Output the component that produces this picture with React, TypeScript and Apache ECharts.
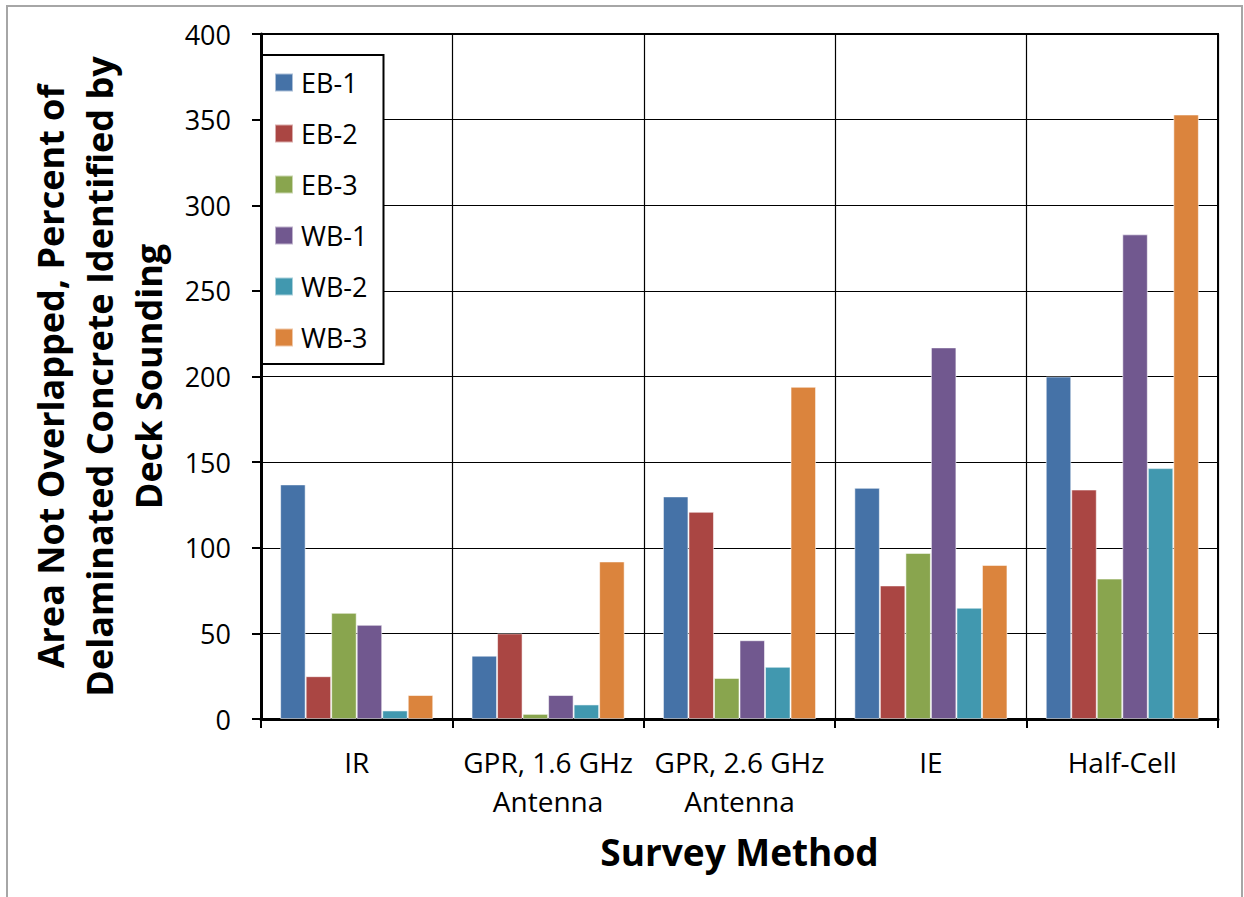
import React, { useEffect, useRef } from "react";
import * as echarts from "echarts";

const categories = ["IR", "GPR, 1.6 GHz\nAntenna", "GPR, 2.6 GHz\nAntenna", "IE", "Half-Cell"];
const seriesNames = ["EB-1", "EB-2", "EB-3", "WB-1", "WB-2", "WB-3"];
const eb1 = [137, 37, 130, 135, 200];
const eb2 = [25, 50, 121, 78, 134];
const eb3 = [62, 3, 24, 97, 82];
const wb1 = [55, 14, 46, 217, 283];
const wb2 = [5, 8.5, 30.5, 65, 146.5];
const wb3 = [14, 92, 194, 90, 353];
const yTicks = [0, 50, 100, 150, 200, 250, 300, 350, 400];
const colors = ["#4572A7", "#AA4643", "#89A54E", "#71588F", "#4198AF", "#DB843D"];

const FONT = "'Open Sans', 'Noto Sans', sans-serif";

export default function App() {
  const ref = useRef<HTMLDivElement>(null);
  useEffect(() => {
    if (!ref.current) return;
    const chart = echarts.init(ref.current, null, { renderer: "svg" });
    const values = [eb1, eb2, eb3, wb1, wb2, wb3];
    chart.setOption({
      animation: false,
      backgroundColor: "#ffffff",
      textStyle: { fontFamily: FONT },
      graphic: [
        {
          type: "rect",
          shape: { x: 7, y: 6, width: 1235, height: 910 },
          style: { fill: "none", stroke: "#a6a6a6", lineWidth: 2 },
          silent: true,
          z: -10,
        },
      ],
      grid: {
        left: 261,
        top: 34,
        right: 26,
        bottom: 178,
        containLabel: false,
        outerBoundsMode: "none",
        show: true,
        borderColor: "#000",
        borderWidth: 2,
      },
      legend: {
        orient: "vertical",
        left: 262,
        top: 55,
        data: seriesNames,
        itemWidth: 18,
        itemHeight: 18,
        itemGap: 24,
        padding: [14, 16, 13, 12],
        borderColor: "#000",
        borderWidth: 2,
        backgroundColor: "#fff",
        icon: "rect",
        textStyle: { fontFamily: FONT, fontSize: 27, lineHeight: 26, color: "#000", padding: [0, 0, 0, 3] },
      },
      xAxis: {
        type: "category",
        data: categories,
        name: "Survey Method",
        nameLocation: "middle",
        nameGap: 114,
        nameTextStyle: { fontFamily: FONT, fontSize: 37, fontWeight: "bold", color: "#000" },
        axisLine: { lineStyle: { color: "#000", width: 3 } },
        axisTick: { show: true, length: 9, lineStyle: { color: "#000", width: 2 } },
        splitLine: { show: true, lineStyle: { color: "#000", width: 1.2 } },
        axisLabel: { interval: 0, fontFamily: FONT, fontSize: 28, color: "#000", margin: 23, lineHeight: 39 },
      },
      yAxis: {
        type: "value",
        min: 0,
        max: 400,
        interval: 50,
        name: "Area Not Overlapped, Percent of\nDelaminated Concrete Identified by\nDeck Sounding",
        nameLocation: "middle",
        nameGap: 88,
        nameTextStyle: { fontFamily: FONT, fontSize: 36, fontWeight: "bold", color: "#000", lineHeight: 49 },
        axisLine: { show: true, lineStyle: { color: "#000", width: 3 } },
        axisTick: { show: true, length: 9, lineStyle: { color: "#000", width: 2 } },
        splitLine: { show: true, lineStyle: { color: "#000", width: 1.2 } },
        axisLabel: {
          fontFamily: FONT,
          fontSize: 27,
          color: "#000",
          margin: 30,
          formatter: (v: number) => (yTicks.includes(v) ? String(v) : ""),
        },
      },
      series: seriesNames.map((name, i) => ({
        name,
        type: "bar",
        data: values[i],
        barGap: "0%",
        barCategoryGap: "20%",
        itemStyle: { color: colors[i], borderColor: "rgba(255,255,255,0.55)", borderWidth: 1 },
      })),
    });
    return () => chart.dispose();
  }, []);
  return <div ref={ref} style={{ position: "fixed", left: 0, top: 0, width: 1244, height: 897 }} />;
}
